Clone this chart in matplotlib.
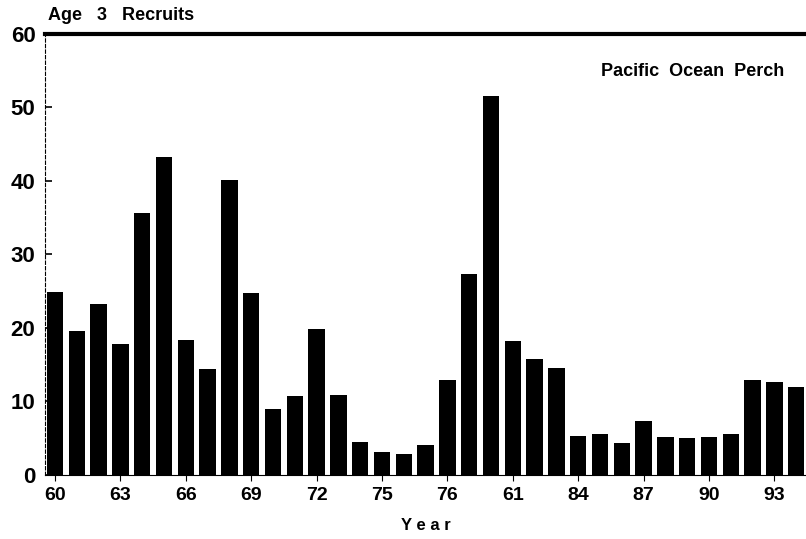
import matplotlib
matplotlib.use('Agg')
import matplotlib.pyplot as plt
import numpy as np

# data
years = list(range(1960, 1995))
recruits = [24.9, 19.6, 23.2, 17.8, 35.7, 43.3, 18.3, 14.4, 40.1, 24.7,
            8.9, 10.7, 19.9, 10.9, 4.5, 3.1, 2.9, 4.1, 12.9, 27.3,
            51.5, 18.2, 15.7, 14.6, 5.3, 5.6, 4.3, 7.3, 5.2, 5.0,
            5.2, 5.5, 12.9, 12.7, 12.0]
tick_years = [1960, 1963, 1966, 1969, 1972, 1975, 1978, 1981, 1984, 1987, 1990, 1993]
tick_labels = ['60', '63', '66', '69', '72', '75', '76', '61', '84', '87', '90', '93']
y_ticks = [0, 10, 20, 30, 40, 50, 60]

plt.rcParams['font.family'] = ['Liberation Sans', 'DejaVu Sans']

fig = plt.figure(figsize=(8.06, 5.39), dpi=100)
ax = fig.add_axes([0.056, 0.119, 0.944, 0.818])

ax.bar(years, recruits, width=0.75, color='black')

ax.set_xlim(1959.55, 1994.45)
ax.set_ylim(0, 60)

ax.set_yticks(y_ticks)
ax.set_yticklabels([str(v) for v in y_ticks], fontsize=16, fontweight='bold')
ax.set_xticks(tick_years)
ax.set_xticklabels(tick_labels, fontsize=14, fontweight='bold')
ax.tick_params(axis='y', direction='in', length=5, width=1.2, pad=7)
ax.tick_params(axis='x', direction='out', length=4, width=0.8, pad=5)

ax.spines['right'].set_visible(False)
ax.spines['top'].set_linewidth(3)
ax.spines['left'].set_linestyle((0, (3, 2)))
ax.spines['left'].set_linewidth(0.8)
ax.spines['bottom'].set_linewidth(0.8)

ax.set_xlabel('Y e a r', fontsize=12, fontweight='bold', labelpad=10)

fig.text(0.06, 0.972, 'Age   3   Recruits', fontsize=13, fontweight='bold',
         ha='left', va='center')
ax.text(0.972, 0.914, 'Pacific  Ocean  Perch', transform=ax.transAxes,
        fontsize=13, fontweight='bold', ha='right', va='center')

fig.savefig('out.png', dpi=100)
